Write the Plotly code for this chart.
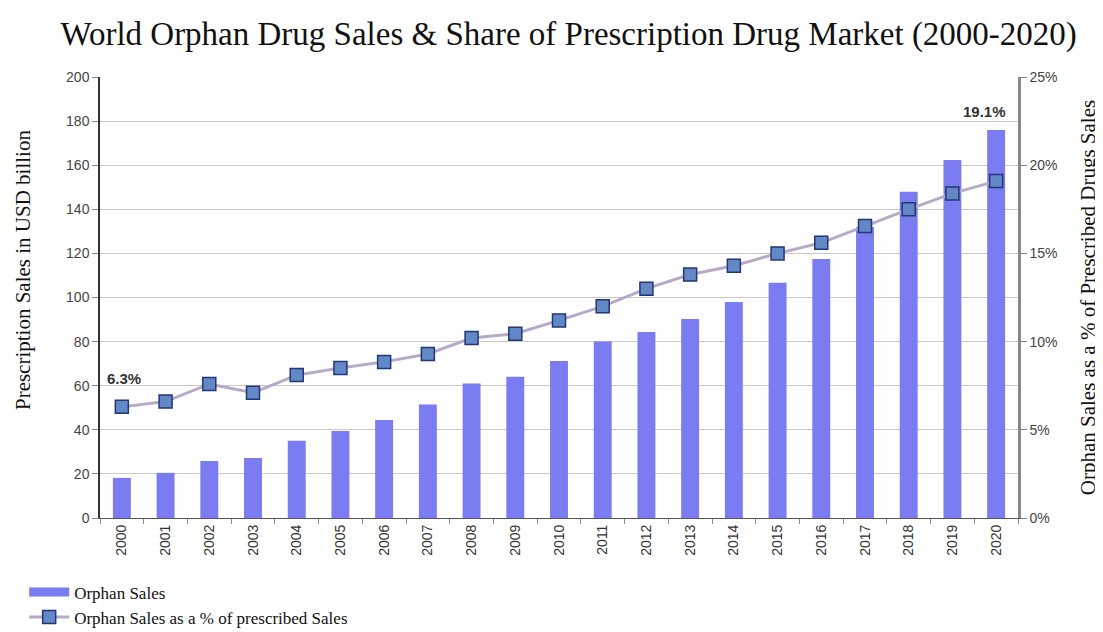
import plotly.graph_objects as go

years = [str(y) for y in range(2000, 2021)]
orphan_sales = [18.2, 20.5, 25.9, 27.2, 35.0, 39.5, 44.5, 51.5, 61.0, 64.1, 71.2,
                80.0, 84.4, 90.2, 98.0, 106.7, 117.5, 132.0, 148.0, 162.4, 176.0]
orphan_share = [6.3, 6.6, 7.6, 7.1, 8.1, 8.5, 8.85, 9.3, 10.2, 10.45, 11.2,
                12.0, 13.0, 13.8, 14.3, 15.0, 15.6, 16.55, 17.5, 18.4, 19.1]

serif = "Liberation Serif, Times New Roman, serif"
sans = "Liberation Sans, Arial, sans-serif"
bar_color = "rgb(123,123,242)"

fig = go.Figure()
fig.add_trace(go.Bar(
    x=years, y=orphan_sales, name="Orphan Sales", showlegend=False,
    marker=dict(color=bar_color, line=dict(width=0)),
    yaxis="y",
))
# legend entry drawn as a wide swatch, like the reference
fig.add_trace(go.Scatter(
    x=[None], y=[None], name="Orphan Sales", mode="lines",
    line=dict(color=bar_color, width=9), yaxis="y",
))
fig.add_trace(go.Scatter(
    x=years, y=orphan_share, name="Orphan Sales as a % of prescribed Sales",
    mode="lines+markers", yaxis="y2",
    line=dict(color="rgb(184,170,198)", width=3),
    marker=dict(symbol="square", size=13, color="rgb(98,136,200)",
                line=dict(color="rgb(35,55,115)", width=1.5)),
))

fig.add_annotation(x=0, y=orphan_share[0], yref="y2", text="<b>6.3%</b>",
                   showarrow=False, yshift=28, xshift=2,
                   font=dict(family=sans, size=15, color="#333"))
fig.add_annotation(x=len(years) - 1, y=orphan_share[-1], yref="y2", text="<b>19.1%</b>",
                   showarrow=False, yshift=70, xshift=-12,
                   font=dict(family=sans, size=15, color="#333"))
# left axis title (placed slightly above centre, as in the reference)
fig.add_annotation(xref="paper", yref="paper", x=-0.084, y=0.562,
                   text="Prescription Sales in USD billion", textangle=-90,
                   showarrow=False, xanchor="center", yanchor="middle",
                   font=dict(family=serif, size=21, color="#111"))

fig.update_layout(
    width=1095, height=624,
    margin=dict(l=92, r=85, t=69, b=114, autoexpand=False),
    paper_bgcolor="white", plot_bgcolor="white",
    title=dict(text="World Orphan Drug Sales & Share of Prescription Drug Market (2000-2020)",
               x=0.512, xanchor="center", y=0.96, yanchor="middle",
               font=dict(family=serif, size=33, color="#111")),
    bargap=0.59,
    showlegend=True,
    legend=dict(x=-0.0826, y=-0.128, xanchor="left", yanchor="top",
                orientation="v", font=dict(family=serif, size=17, color="#111"),
                tracegroupgap=0, itemwidth=40, bgcolor="rgba(0,0,0,0)"),
    xaxis=dict(type="category", range=[-0.5, len(years) - 0.5], tickangle=-90,
               showline=True, linecolor="#555",
               linewidth=1, ticks="outside", tickson="boundaries", ticklen=5,
               tickcolor="#888", showgrid=False,
               tickfont=dict(family=sans, size=14, color="#333")),
    yaxis=dict(range=[0, 200], dtick=20, showline=True, linecolor="#333", linewidth=1.5,
               ticks="outside", ticklen=6, tickcolor="#888",
               showgrid=True, gridcolor="#c8c8c8", gridwidth=1.2, zeroline=False,
               tickfont=dict(family=sans, size=14, color="#444")),
    yaxis2=dict(range=[0, 25], dtick=5, overlaying="y", side="right", showgrid=False,
                showline=True, linecolor="#888", linewidth=2.5, zeroline=False,
                ticks="outside", ticklen=6, tickcolor="#888", ticksuffix="%",
                tickfont=dict(family=sans, size=14, color="#444"),
                title=dict(text="Orphan Sales as a % of Prescribed Drugs Sales", standoff=24,
                           font=dict(family=serif, size=21, color="#111"))),
)

fig.write_html("out.html")
